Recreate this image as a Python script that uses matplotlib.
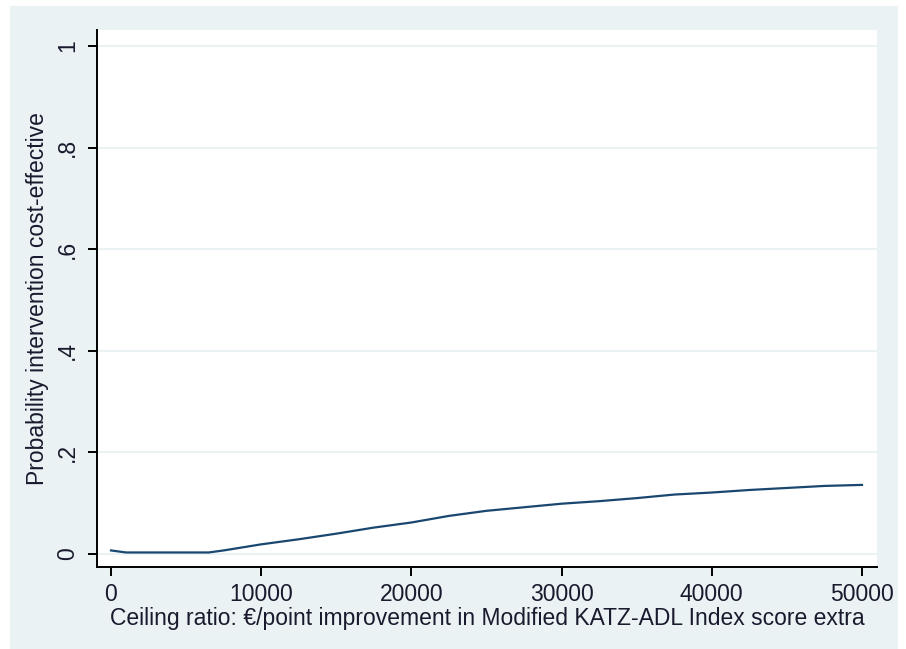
import matplotlib
matplotlib.use("Agg")
import matplotlib.pyplot as plt

ceiling = [0, 1000, 2500, 5000, 6500, 7500, 10000, 12500, 15000, 17500, 20000,
           22500, 25000, 27500, 30000, 32500, 35000, 37500, 40000, 42500, 45000,
           47500, 50000]
prob = [0.007, 0.003, 0.003, 0.003, 0.003, 0.007, 0.019, 0.029, 0.040, 0.052, 0.062,
        0.075, 0.085, 0.092, 0.099, 0.104, 0.110, 0.117, 0.121, 0.126, 0.130,
        0.134, 0.136]
xticks = [0, 10000, 20000, 30000, 40000, 50000]
yticks = [0, 0.2, 0.4, 0.6, 0.8, 1.0]
ytick_labels = ["0", ".2", ".4", ".6", ".8", "1"]

plt.rcParams['font.family'] = ['Liberation Sans', 'DejaVu Sans']
W, H = 906, 649
fig = plt.figure(figsize=(W / 100, H / 100), dpi=100)
fig.patch.set_facecolor('white')
bg = "#eaf2f3"
bg_ax = fig.add_axes([10 / W, 0, (898 - 10) / W, (649 - 6) / H], zorder=-5)
bg_ax.set_facecolor(bg)
bg_ax.set_xticks([])
bg_ax.set_yticks([])
for s in bg_ax.spines.values():
    s.set_visible(False)

ax = fig.add_axes([97 / W, (H - 567) / H, (877 - 97) / W, (567 - 30) / H], zorder=1)
ax.set_facecolor('white')
ax.plot(ceiling, prob, color="#1a476f", linewidth=1.6, zorder=3)

ax.set_xlim(-932, 51000)
ax.set_ylim(-0.0256, 1.0315)
ax.set_xticks(xticks)
ax.set_xticklabels([str(t) for t in xticks])
ax.set_yticks(yticks)
ax.set_yticklabels(ytick_labels, rotation=90, va='center')
ax.grid(axis='y', color=bg, linewidth=1.5, zorder=1)
ax.grid(axis='x', visible=False)

for s in ['top', 'right']:
    ax.spines[s].set_visible(False)
for s in ['left', 'bottom']:
    ax.spines[s].set_linewidth(1.4)
    ax.spines[s].set_color('black')

txt = "#1a1a2e"
fs = 16.5
ax.tick_params(axis='both', length=6.5, width=1.4, labelsize=fs, labelcolor=txt)
ax.tick_params(axis='x', pad=5)
ax.tick_params(axis='y', pad=6.5)
ax.set_xlabel("Ceiling ratio: €/point improvement in Modified KATZ-ADL Index score extra",
              fontsize=fs, color=txt, labelpad=0.5)
ax.set_ylabel("Probability intervention cost-effective", fontsize=fs, color=txt, labelpad=5)

fig.savefig("out.png", dpi=100, facecolor='white')
